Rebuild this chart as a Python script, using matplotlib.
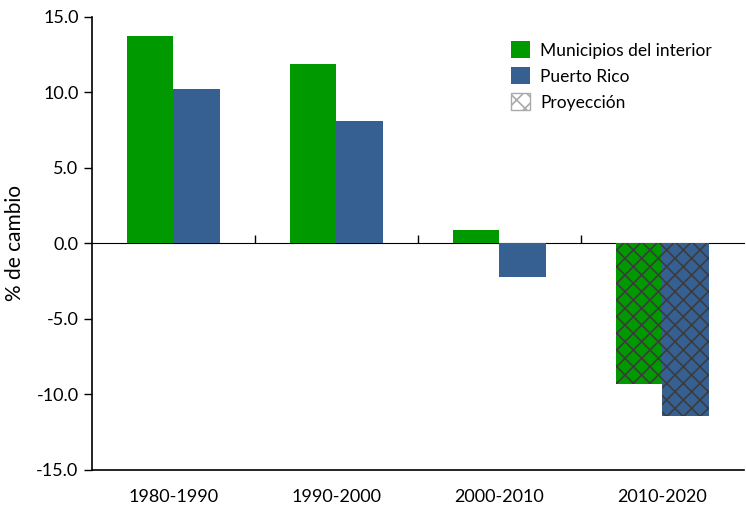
import matplotlib.pyplot as plt
from matplotlib.patches import Patch
import numpy as np

plt.rcParams['font.family'] = ['Lato', 'DejaVu Sans']
plt.rcParams['axes.unicode_minus'] = False
plt.rcParams['hatch.linewidth'] = 1.2

periods = ['1980-1990', '1990-2000', '2000-2010', '2010-2020']
interior = [13.7, 11.9, 0.9, -9.3]
puerto_rico = [10.2, 8.1, -2.2, -11.4]
projected = [False, False, False, True]

green = '#009900'
blue = '#366092'
hatch_col = '#3c3c3c'

fig = plt.figure(figsize=(7.46, 5.08), dpi=100)
ax = fig.add_axes([0.123, 0.075, 0.874, 0.892])

x = np.arange(len(periods))
w = 0.286
for i in range(len(periods)):
    if projected[i]:
        kw = dict(edgecolor=hatch_col, linewidth=0, hatch='xx')
    else:
        kw = dict(edgecolor='none')
    ax.bar(x[i] - w / 2, interior[i], w, color=green, **kw)
    ax.bar(x[i] + w / 2, puerto_rico[i], w, color=blue, **kw)

ax.set_xlim(-0.5, 3.5)
ax.set_ylim(-15, 15)
ax.set_yticks(np.arange(-15, 16, 5))
ax.set_yticklabels([f'{v:.1f}' for v in np.arange(-15, 16, 5)])
ax.set_xticks(x)
ax.set_xticklabels(periods)
ax.tick_params(axis='x', length=0, pad=14, labelsize=13)
ax.tick_params(axis='y', length=6, width=1, labelsize=13, direction='out')
ax.spines['top'].set_visible(False)
ax.spines['right'].set_visible(False)
ax.spines['left'].set_linewidth(1.2)
ax.spines['bottom'].set_linewidth(1.2)
ax.set_ylabel('% de cambio', fontsize=15, labelpad=8)

# zero line with category separators
sec = ax.secondary_xaxis(0.5)
sec.set_xticks([0.5, 1.5, 2.5])
sec.set_xticklabels(['', '', ''])
sec.tick_params(length=6, width=1, direction='out')
sec.spines['bottom'].set_linewidth(1.2)

handles = [
    Patch(facecolor=green, edgecolor='none', label='Municipios del interior'),
    Patch(facecolor=blue, edgecolor='none', label='Puerto Rico'),
    Patch(facecolor='white', edgecolor='#aaaaaa', hatch='xx', label='Proyección'),
]
ax.legend(handles=handles, loc='upper right', bbox_to_anchor=(0.975, 0.98), frameon=False,
          fontsize=12.5, handlelength=1.1, handleheight=1.1, handletextpad=0.6, labelspacing=0.5)

fig.savefig('out.png', dpi=100)
